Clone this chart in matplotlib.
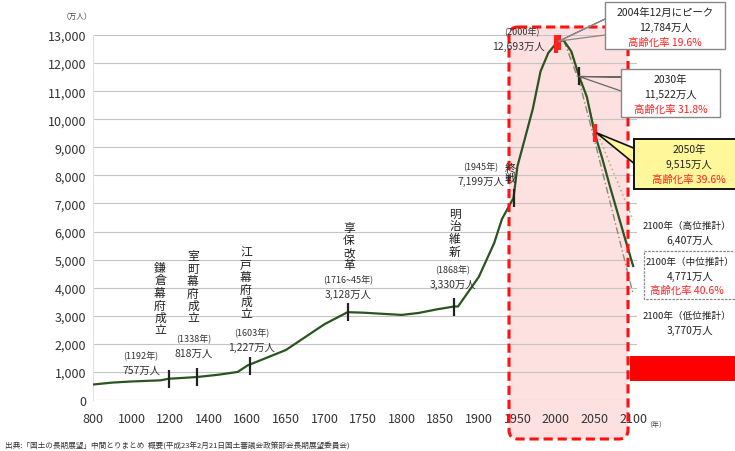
import matplotlib.pyplot as plt
import numpy as np
from matplotlib.patches import FancyBboxPatch, Rectangle, Polygon

plt.rcParams['font.family'] = ['Noto Sans CJK JP', 'DejaVu Sans']

# 総人口の推移（万人）
years = [800, 900, 1000, 1150, 1192, 1250, 1338, 1450, 1550, 1600, 1650, 1700,
         1730, 1750, 1800, 1822, 1846, 1868, 1873, 1900, 1920, 1930, 1945, 1950,
         1960, 1970, 1980, 1990, 2000, 2004, 2010, 2020, 2030, 2040, 2050, 2060,
         2070, 2080, 2090, 2100]
pop = [551, 620, 660, 700, 757, 780, 818, 900, 1000, 1227, 1781, 2700,
       3128, 3110, 3030, 3100, 3230, 3330, 3330, 4385, 5596, 6445, 7199, 8320,
       9342, 10372, 11706, 12361, 12693, 12784, 12806, 12410, 11522, 10800, 9515, 8600,
       7600, 6650, 5700, 4771]

# 高位・低位推計
high_years = [2010, 2030, 2050, 2100]
high_pop = [12806, 11700, 9750, 6407]
low_years = [2010, 2030, 2050, 2100]
low_pop = [12806, 11350, 9250, 3770]

# 出来事のマーカー
event_years = [1192, 1338, 1603, 1730, 1868, 1945, 2030]
event_pop = [757, 818, 1227, 3128, 3330, 7199, 11522]
red_years = [2000, 2004, 2050]
red_pop = [12693, 12784, 9515]

tick_years = [800, 1000, 1200, 1400, 1600, 1650, 1700, 1750, 1800, 1850, 1900,
              1950, 2000, 2050, 2100]
y_ticks = list(range(0, 14000, 1000))

W, H = 735, 452


def xi(y):
    # 年 -> 目盛り位置（不等間隔の軸）
    return np.interp(y, tick_years, np.arange(len(tick_years)))


fig = plt.figure(figsize=(W / 100, H / 100), dpi=100)

# 背景（強調枠の塗り）
bg = fig.add_axes([0, 0, 1, 1], zorder=0)
bg.set_xlim(0, W)
bg.set_ylim(H, 0)
bg.axis('off')
bg.add_patch(FancyBboxPatch((509, 28), 119, 412, boxstyle='round,pad=0,rounding_size=9',
                            facecolor='#fde0e0', edgecolor='none'))

ax = fig.add_axes([93 / W, 1 - 401 / H, 544 / W, 365 / H], zorder=1)
ax.patch.set_alpha(0)

ax.plot(xi(high_years), high_pop, color='#c8a860', lw=1.1, ls=(0, (1, 2)), zorder=3)
ax.plot(xi(low_years), low_pop, color='#8a8a70', lw=1.0, ls=(0, (5, 2, 1, 2)), zorder=3)
ax.plot(xi(years), pop, color='#2a5420', lw=1.6, zorder=4)
ax.plot(xi(event_years), event_pop, ls='none', marker='|', ms=13, mew=1.6,
        color='#222222', zorder=5)
ax.plot(xi(red_years), red_pop, ls='none', marker='|', ms=13, mew=3,
        color='#ff2020', zorder=6)

ax.set_xlim(0, 14.1)
ax.set_ylim(0, 13000)
ax.set_xticks(range(len(tick_years)))
ax.set_xticklabels([str(t) for t in tick_years])
ax.set_yticks(y_ticks)
ax.set_yticklabels(['{:,}'.format(v) for v in y_ticks])
ax.tick_params(length=0, labelsize=9, colors='#333333')
ax.tick_params(axis='x', pad=9)
ax.tick_params(axis='y', pad=5)
ax.grid(axis='y', color='#c4c4c4', lw=0.8)
ax.set_axisbelow(True)
for s in ['top', 'right', 'bottom']:
    ax.spines[s].set_visible(False)
ax.spines['left'].set_color('#e0e0e0')

# 注記用のオーバーレイ（ピクセル座標、上が0）
ov = fig.add_axes([0, 0, 1, 1], zorder=10)
ov.set_xlim(0, W)
ov.set_ylim(H, 0)
ov.axis('off')
ov.patch.set_alpha(0)


def pt(year, val):
    x, y = ax.transData.transform((xi(year), val))
    return x, H - y


ov.add_patch(FancyBboxPatch((509, 28), 119, 412, boxstyle='round,pad=0,rounding_size=9',
                            facecolor='none', edgecolor='#ff1010', lw=2.2,
                            ls=(0, (3, 1.6))))

fs = 7.5


def vtext(x, y, s, size=8.5):
    ov.text(x, y, '\n'.join(s), ha='center', va='top', fontsize=size,
            linespacing=0.95, color='#222222')


def two(x, y, a, b, ha='center'):
    ov.text(x, y, a, ha=ha, va='center', fontsize=6.5, color='#333333')
    ov.text(x, y + 15, b, ha=ha, va='center', fontsize=fs, color='#333333')


vtext(160, 262, '鎌倉幕府成立')
two(141, 356, '(1192年)', '757万人')
vtext(193, 250, '室町幕府成立')
two(194, 339, '(1338年)', '818万人')
vtext(246, 246, '江戸幕府成立')
two(252, 333, '(1603年)', '1,227万人')
vtext(349, 222, '享保改革')
two(348, 280, '(1716~45年)', '3,128万人')
vtext(455, 208, '明治維新')
two(453, 270, '(1868年)', '3,330万人')
two(481, 167, '(1945年)', '7,199万人', )
vtext(510, 164, '終戦', size=8)
ov.text(540, 32, '(2000年)', ha='right', va='center', fontsize=6.5, color='#333333')
ov.text(545, 47, '12,693万人', ha='right', va='center', fontsize=fs, color='#333333')


def box(x0, y0, w, h, lines, fc='white', ec='#888888', ls='-', lw=1.0):
    ov.add_patch(Rectangle((x0, y0), w, h, facecolor=fc, edgecolor=ec, lw=lw, ls=ls,
                           zorder=2))
    for i, (s, c) in enumerate(lines):
        ov.text(x0 + w / 2, y0 + 10 + i * 15, s, ha='center', va='center',
                fontsize=fs, color=c, zorder=3)


# 吹き出し線
px, py = pt(2004, 12784)
ov.plot([px, 605, px, 605], [py, 20, py, 36], color='#888888', lw=0.9)
box(605, 3, 120, 47, [('2004年12月にピーク', '#222222'), ('12,784万人', '#222222'),
                      ('高齢化率 19.6%', '#ff2020')])

px, py = pt(2030, 11522)
ov.plot([px, 621, px, 621], [py, 78, py, 92], color='#666666', lw=0.9)
box(621, 70, 99, 48, [('2030年', '#222222'), ('11,522万人', '#222222'),
                      ('高齢化率 31.8%', '#ff2020')])

px, py = pt(2050, 9515)
ov.add_patch(Polygon([(px + 2, py), (636, 150), (636, 166)], closed=True,
                     facecolor='#fff799', edgecolor='#111111', lw=1.2, zorder=1))
box(634, 140, 110, 50, [('2050年', '#222222'), ('9,515万人', '#222222'),
                        ('高齢化率 39.6%', '#ff2020')], fc='#fff799', ec='#111111',
    lw=1.4)

fs2 = 6.9
ov.text(643, 226, '2100年（高位推計）', ha='left', va='center', fontsize=fs2, color='#222222')
ov.text(690, 241, '6,407万人', ha='center', va='center', fontsize=fs, color='#222222')
ov.add_patch(Rectangle((644, 252), 100, 48, facecolor='white', edgecolor='#888888',
                       lw=0.9, ls=(0, (2, 1))))
ov.text(646, 262, '2100年（中位推計）', ha='left', va='center', fontsize=fs2, color='#222222')
ov.text(690, 277, '4,771万人', ha='center', va='center', fontsize=fs, color='#222222')
ov.text(650, 291, '高齢化率 40.6%', ha='left', va='center', fontsize=fs, color='#ff2020')
ov.text(643, 316, '2100年（低位推計）', ha='left', va='center', fontsize=fs2, color='#222222')
ov.text(690, 331, '3,770万人', ha='center', va='center', fontsize=fs, color='#222222')

ov.add_patch(Rectangle((630, 357), 110, 25, facecolor='#ff0000', edgecolor='none'))

ov.text(77, 17, '（万人）', ha='center', va='center', fontsize=5.5, color='#444444')
ov.text(656, 425, '（年）', ha='center', va='center', fontsize=5, color='#444444')
ov.text(5, 447, '出典:「国土の長期展望」中間とりまとめ  概要(平成23年2月21日国土審議会政策部会長期展望委員会)',
        ha='left', va='center', fontsize=5.5, color='#333333')

fig.savefig('out.png', dpi=100)
